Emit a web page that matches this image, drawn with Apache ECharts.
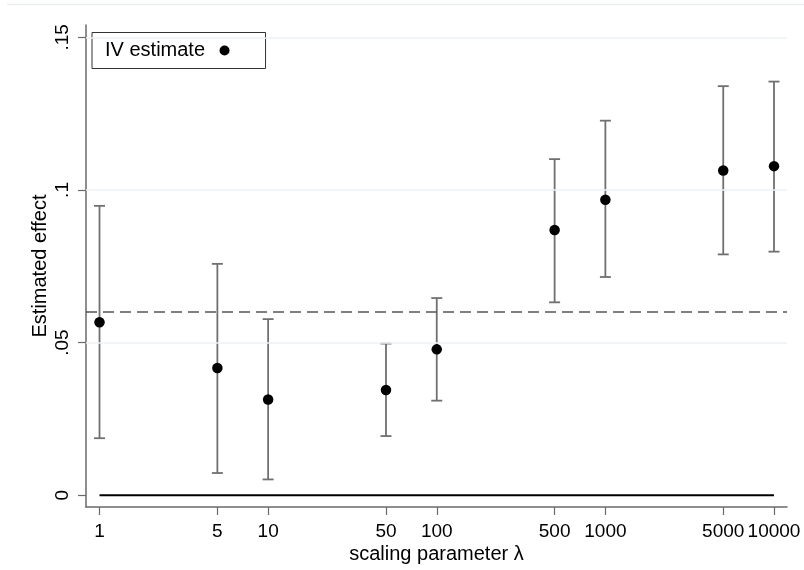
<!DOCTYPE html>
<html>
<head>
<meta charset="utf-8">
<script src="https://cdn.jsdelivr.net/npm/echarts@6/dist/echarts.min.js"></script>
<style>
  html, body { margin: 0; padding: 0; background: #fff; }
  #chart { width: 804px; height: 570px; }
</style>
</head>
<body>
<div id="chart"></div>
<script>
// scaling parameter λ and IV estimates with CI bounds
const lambdas = [1, 5, 10, 50, 100, 500, 1000, 5000, 10000];
const estimates = [0.0567, 0.0417, 0.0314, 0.0345, 0.0478, 0.0869, 0.0968, 0.1064, 0.1078];
const ciLower = [0.0187, 0.0073, 0.0052, 0.0194, 0.0310, 0.0632, 0.0715, 0.0789, 0.0798];
const ciUpper = [0.0948, 0.0758, 0.0577, 0.0497, 0.0646, 0.1101, 0.1227, 0.1340, 0.1355];
const refLine = 0.0603;

const xTicks = [1, 5, 10, 50, 100, 500, 1000, 5000, 10000];
const yTicks = [0, 0.05, 0.1, 0.15];
const yTickLabels = ['0', '.05', '.1', '.15'];
const gridValues = [0.05, 0.1, 0.15];

const FONT = 'Liberation Sans, Arial, sans-serif';
const AXIS_GRAY = '#6a6a6a';

const chart = echarts.init(document.getElementById('chart'), null, { renderer: 'canvas' });

const option = {
  backgroundColor: '#fff',
  animation: false,
  textStyle: { fontFamily: FONT },
  graphic: [{
    type: 'line',
    shape: { x1: 7, y1: 4.5, x2: 804, y2: 4.5 },
    style: { stroke: '#e8eef3', lineWidth: 1.5 },
    silent: true
  }],
  grid: { left: 86, right: 17, top: 25, bottom: 63 },
  legend: {
    data: ['IV estimate'],
    left: 92,
    top: 32.5,
    align: 'right',
    selectedMode: false,
    borderColor: '#333',
    borderWidth: 1,
    padding: [8, 36, 8, 13],
    itemWidth: 29,
    itemHeight: 10,
    textStyle: { fontSize: 20, fontFamily: FONT, color: '#000', lineHeight: 20 }
  },
  xAxis: {
    type: 'log',
    logBase: 10,
    min: 0.8316,
    max: 11942,
    name: 'scaling parameter λ',
    nameLocation: 'middle',
    nameGap: 37,
    nameMoveOverlap: false,
    nameTextStyle: { fontSize: 20, fontFamily: FONT, color: '#000' },
    axisLine: { onZero: false, lineStyle: { color: AXIS_GRAY, width: 1.5 } },
    axisTick: { show: true, length: 8, customValues: xTicks, lineStyle: { color: AXIS_GRAY, width: 1.2 } },
    axisLabel: {
      customValues: xTicks,
      margin: 15,
      fontSize: 19,
      fontFamily: FONT,
      color: '#000',
      formatter: v => String(v)
    },
    minorTick: { show: false },
    splitLine: { show: false }
  },
  yAxis: {
    type: 'value',
    min: -0.00383,
    max: 0.15403,
    name: 'Estimated effect',
    nameLocation: 'middle',
    nameRotate: 90,
    nameGap: 36,
    nameMoveOverlap: false,
    nameTextStyle: { fontSize: 20, fontFamily: FONT, color: '#000' },
    axisLine: { show: true, onZero: false, lineStyle: { color: AXIS_GRAY, width: 1.5 } },
    axisTick: { show: true, length: 8, customValues: yTicks, lineStyle: { color: AXIS_GRAY, width: 1.2 } },
    axisLabel: {
      customValues: yTicks,
      rotate: 90,
      margin: 14,
      fontSize: 19,
      fontFamily: FONT,
      color: '#000',
      formatter: v => {
        const i = yTicks.findIndex(t => Math.abs(t - v) < 1e-9);
        return i >= 0 ? yTickLabels[i] : '';
      }
    },
    splitLine: { show: false }
  },
  series: [
    {
      // zero line across the data range, plus faint gridlines
      name: 'zero',
      type: 'line',
      z: 1,
      silent: true,
      symbol: 'none',
      lineStyle: { color: '#000', width: 2 },
      data: [[lambdas[0], 0], [lambdas[lambdas.length - 1], 0]],
      markLine: {
        silent: true,
        symbol: 'none',
        label: { show: false },
        lineStyle: { color: '#edf2f5', width: 1.5, type: 'solid' },
        data: gridValues.map(v => ({ yAxis: v }))
      }
    },
    {
      name: 'ci',
      type: 'custom',
      z: 2,
      silent: true,
      data: lambdas.map((l, i) => [l, ciLower[i], ciUpper[i]]),
      renderItem: (params, api) => {
        const lo = api.coord([api.value(0), api.value(1)]);
        const hi = api.coord([api.value(0), api.value(2)]);
        const half = 5.5;
        const style = { stroke: '#707070', lineWidth: 1.8 };
        return {
          type: 'group',
          children: [
            { type: 'line', shape: { x1: lo[0], y1: lo[1], x2: hi[0], y2: hi[1] }, style },
            { type: 'line', shape: { x1: lo[0] - half, y1: lo[1], x2: lo[0] + half, y2: lo[1] }, style },
            { type: 'line', shape: { x1: hi[0] - half, y1: hi[1], x2: hi[0] + half, y2: hi[1] }, style }
          ]
        };
      },
      markLine: {
        silent: true,
        symbol: 'none',
        label: { show: false },
        lineStyle: { color: '#555', width: 1.5, type: [11, 6] },
        data: [{ yAxis: refLine }]
      }
    },
    {
      name: 'IV estimate',
      type: 'scatter',
      z: 3,
      symbol: 'circle',
      symbolSize: 10.5,
      itemStyle: { color: '#000', opacity: 1 },
      data: lambdas.map((l, i) => [l, estimates[i]])
    }
  ]
};

chart.setOption(option);
</script>
</body>
</html>
